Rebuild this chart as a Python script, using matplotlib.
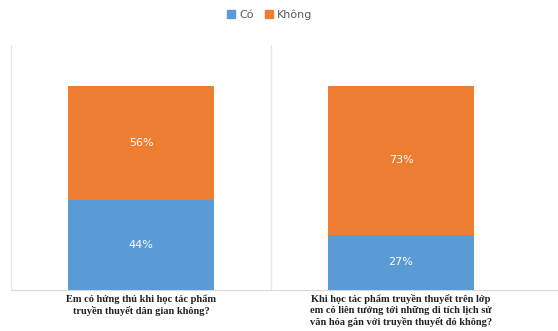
import matplotlib
matplotlib.use("Agg")
import matplotlib.pyplot as plt
from matplotlib.patches import Patch

categories = ["Em có hứng thú khi học tác phẩm\ntruyền thuyết dân gian không?",
              "Khi học tác phẩm truyền thuyết trên lớp\nem có liên tưởng tới những di tích lịch sử\nvăn hóa gắn với truyền thuyết đó không?"]
series_names = ["Có", "Không"]
co = [0.44, 0.27]
khong = [0.56, 0.73]
colors = ["#5B9BD5", "#ED7D31"]

fig = plt.figure(figsize=(5.58, 3.31), dpi=100)
ax = fig.add_axes([11/558, 1 - 290/331, 1 - 11/558, (290 - 45)/331])
x = list(range(len(categories)))
w = 0.56
b1 = ax.bar(x, co, width=w, color=colors[0], zorder=3)
b2 = ax.bar(x, khong, width=w, bottom=co, color=colors[1], zorder=3)
for vals, bottoms in [(co, [0]*len(co)), (khong, co)]:
    for xi, v, b in zip(x, vals, bottoms):
        ax.text(xi, b + v/2, f"{round(v*100)}%", ha="center", va="center",
                color="white", fontsize=8, zorder=4)

ax.set_ylim(0, 1.2)
ax.set_xlim(-0.5, (558 - 11)/260 - 0.5)
for xv in [-0.5, 0.5]:
    ax.axvline(xv, color="#e6e6e6", lw=1, zorder=1)
for s in ["top", "right", "left"]:
    ax.spines[s].set_visible(False)
ax.spines["bottom"].set_color("#d9d9d9")
ax.set_yticks([])
ax.set_xticks(x)
ax.set_xticklabels(categories, fontfamily="Liberation Serif", fontweight="bold",
                   fontsize=7.5, color="#222222", linespacing=1.25)
ax.tick_params(axis="x", length=0, pad=3)

handles = [Patch(color=c) for c in colors]
fig.legend(handles, series_names, loc="center", bbox_to_anchor=(270/558, 1 - 15/331),
           ncol=2, frameon=False, fontsize=8, handlelength=0.7, handleheight=0.7,
           handletextpad=0.4, columnspacing=1.0, labelcolor="#595959")
fig.savefig("out.png", dpi=100)
